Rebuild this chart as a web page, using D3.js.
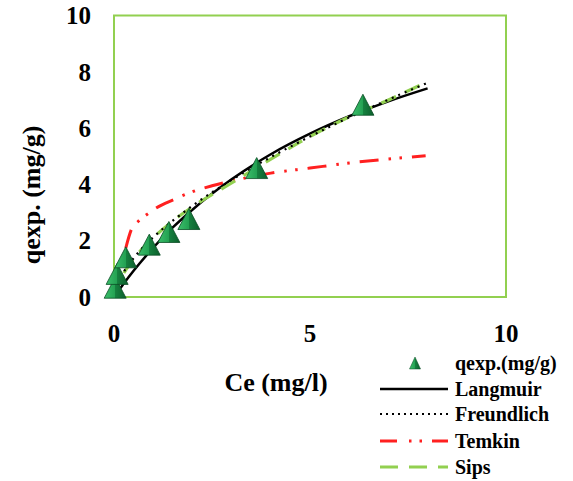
<!DOCTYPE html>
<html>
<head>
<meta charset="utf-8">
<script src="https://cdn.jsdelivr.net/npm/d3@7"></script>
</head>
<body style="margin:0">
<script>
// experimental points
const expC = [0.03, 0.08, 0.30, 0.90, 1.40, 1.91, 3.64, 6.35];
const expQ = [0.33, 0.82, 1.41, 1.86, 2.31, 2.77, 4.58, 6.83];

// model curves
const fitC = [0, 0.1, 0.25, 0.5, 1, 1.5, 2, 3, 4, 5, 6, 7, 8];
const langmuirQ = [0, 0.20, 0.48, 0.93, 1.75, 2.47, 3.10, 4.18, 5.07, 5.80, 6.42, 6.95, 7.41];
const freundlichQ = [0, 0.51, 0.90, 1.38, 2.12, 2.71, 3.24, 4.16, 4.97, 5.70, 6.38, 7.01, 7.61];
const sipsQ = [0, 0.45, 0.85, 1.35, 2.10, 2.70, 3.20, 4.05, 4.90, 5.70, 6.40, 7.00, 7.65];
const temkinC = [0.30, 0.44, 0.62, 0.84, 1.05, 1.52, 2.02, 2.5, 3.0, 4.0, 5.0, 6.0, 7.0, 7.95];
const temkinQ = [1.74, 2.39, 2.69, 2.93, 3.14, 3.46, 3.75, 3.95, 4.12, 4.40, 4.58, 4.76, 4.90, 5.02];

const xTicks = [0, 5, 10];
const yTicks = [0, 2, 4, 6, 8, 10];
const legendNames = ["qexp.(mg/g)", "Langmuir", "Freundlich", "Temkin", "Sips"];

var width = 573, height = 481;
var svg = d3.select("body").append("svg")
    .attr("width", width)
    .attr("height", height);

// labels: bold serif
function serif(sel, size) {
    return sel.style("font-family", "serif")
        .style("font-weight", "700")
        .style("font-size", size + "px")
        .attr("fill", "#000");
}

var x = d3.scaleLinear().domain([0, 10]).range([114, 506]);
var y = d3.scaleLinear().domain([0, 10]).range([297, 15.5]);

// gradient for the pyramid markers
var defs = svg.append("defs");
var grad = defs.append("linearGradient").attr("id", "tri").attr("x1", "0").attr("x2", "1").attr("y1", "0").attr("y2", "0");
grad.append("stop").attr("offset", "0%").attr("stop-color", "#3cbf6c");
grad.append("stop").attr("offset", "50%").attr("stop-color", "#23a152");
grad.append("stop").attr("offset", "51%").attr("stop-color", "#16813f");
grad.append("stop").attr("offset", "100%").attr("stop-color", "#0c5e2c");

// plot border
svg.append("rect")
    .attr("x", x(0)).attr("y", y(10))
    .attr("width", x(10) - x(0)).attr("height", y(0) - y(10))
    .attr("fill", "none").attr("stroke", "#92d050").attr("stroke-width", 2);

// y tick labels
svg.append("g").selectAll("text")
    .data(yTicks)
    .enter()
    .append("text")
    .attr("x", x(0) - 23)
    .attr("y", function(d) { return y(d); })
    .attr("dy", "0.35em")
    .attr("text-anchor", "end")
    .text(function(d) { return d; })
    .call(serif, 25);

// x tick labels
svg.append("g").selectAll("text")
    .data(xTicks)
    .enter()
    .append("text")
    .attr("x", function(d) { return x(d); })
    .attr("y", y(0) + 45)
    .attr("text-anchor", "middle")
    .text(function(d) { return d; })
    .call(serif, 25);

// axis titles
svg.append("text")
    .attr("x", 276).attr("y", 391)
    .attr("text-anchor", "middle")
    .text("Ce (mg/l)")
    .call(serif, 26);
svg.append("text")
    .attr("transform", "translate(40,195) rotate(-90)")
    .attr("text-anchor", "middle")
    .text("qexp. (mg/g)")
    .call(serif, 26);

// curves
var line = d3.line()
    .x(function(d) { return x(d[0]); })
    .y(function(d) { return y(d[1]); })
    .curve(d3.curveMonotoneX);

var series = [
    { c: temkinC, q: temkinQ, color: "#ff2020", dash: "19,10,2.5,8.5,2.5,10", w: 3 },
    { c: fitC, q: langmuirQ, color: "#000", dash: null, w: 2.5 },
    { c: fitC, q: sipsQ, color: "#92d050", dash: "16,10", w: 3.2 },
    { c: fitC, q: freundlichQ, color: "#000", dash: "2,5", w: 2.2 }
];
series.forEach(function(s) {
    svg.append("path")
        .datum(d3.zip(s.c, s.q))
        .attr("fill", "none")
        .attr("stroke", s.color)
        .attr("stroke-width", s.w)
        .attr("stroke-dasharray", s.dash)
        .attr("d", line);
});

// triangle markers
function tri(cx, cy, w, h) {
    return "M" + cx + "," + (cy - h / 2) + "L" + (cx + w / 2) + "," + (cy + h / 2) + "L" + (cx - w / 2) + "," + (cy + h / 2) + "Z";
}
svg.append("g").selectAll("path")
    .data(d3.zip(expC, expQ))
    .enter()
    .append("path")
    .attr("d", function(d) { return tri(x(d[0]), y(d[1]), 22, 21); })
    .attr("fill", "url(#tri)")
    .attr("stroke", "#0a4d24")
    .attr("stroke-width", 0.8);

// legend
var legY = [363, 389, 414, 441, 467];
var lg = svg.append("g");
lg.append("path")
    .attr("d", tri(415, legY[0], 11, 12))
    .attr("fill", "url(#tri)")
    .attr("stroke", "#0a4d24")
    .attr("stroke-width", 0.5);
var legStyles = [
    null,
    { color: "#000", dash: null, w: 2.5 },
    { color: "#000", dash: "2,4", w: 2 },
    { color: "#ff2020", dash: "17,12,2.5,8,2.5,10", w: 3 },
    { color: "#92d050", dash: "18,11", w: 3 }
];
for (var i = 1; i < legendNames.length; i++) {
    lg.append("line")
        .attr("x1", 380).attr("x2", 448)
        .attr("y1", legY[i]).attr("y2", legY[i])
        .attr("stroke", legStyles[i].color)
        .attr("stroke-width", legStyles[i].w)
        .attr("stroke-dasharray", legStyles[i].dash);
}
lg.selectAll("text")
    .data(legendNames)
    .enter()
    .append("text")
    .attr("x", 455)
    .attr("y", function(d, i) { return legY[i]; })
    .attr("dy", "0.35em")
    .text(function(d) { return d; })
    .call(serif, 20);
</script>
</body>
</html>
